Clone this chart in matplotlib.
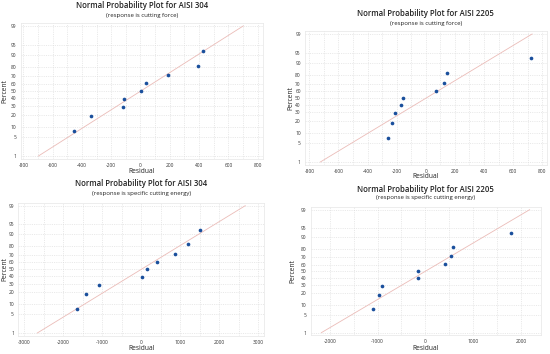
"""
Normal probability plots of residuals for AISI 304 / AISI 2205
(cutting force and specific cutting energy), Minitab style.
"""

from statistics import NormalDist

import numpy as np
import matplotlib
matplotlib.use("Agg")
import matplotlib.pyplot as plt
from matplotlib.ticker import MultipleLocator

plt.rcParams["font.family"] = ["Open Sans", "DejaVu Sans"]

# residuals (sorted low -> high)
res_304_force = [-455, -338, -122, -115, 5, 38, 185, 395, 425]
res_2205_force = [-262, -232, -213, -170, -157, 68, 127, 145, 720]
res_304_energy = [-1640, -1417, -1075, 26, 154, 418, 862, 1195, 1502]
res_2205_energy = [-1094, -976, -913, -153, -146, 404, 530, 578, 1790]

titles = ["Normal Probability Plot for AISI 304", "Normal Probability Plot for AISI 2205",
          "Normal Probability Plot for AISI 304", "Normal Probability Plot for AISI 2205"]
subtitles = ["(response is cutting force)", "(response is cutting force)",
             "(response is specific cutting energy)", "(response is specific cutting energy)"]

pct_ticks = [1, 5, 10, 20, 30, 40, 50, 60, 70, 80, 90, 95, 99]
xticks_force = [-800, -600, -400, -200, 0, 200, 400, 600, 800]
xticks_304_energy = [-3000, -2000, -1000, 0, 1000, 2000, 3000]
xticks_2205_energy = [-2000, -1000, 0, 1000, 2000]

W, H = 550, 354
nd = NormalDist()


def z(p):
    return nd.inv_cdf(p / 100.0)


ZLO, ZHI = -2.42, 2.42

# per panel layout in pixels:
# (x_val_a, px_a, x_val_b, px_b, px of 99%, px of 1%, xlim, title y, subtitle y, xlabel y, ylabel x)
panels = [
    (res_304_force, xticks_force, 100,
     (-800, 23.3, 800, 257.7, 26, 156, (-818, 836), 6, 15, 171, 5)),
    (res_2205_force, xticks_force, 100,
     (-800, 309.3, 800, 542.3, 34, 162, (-830, 830), 14, 23, 177, 291)),
    (res_304_energy, xticks_304_energy, 500,
     (-3000, 24, 3000, 258.3, 205.7, 333, (-3150, 3150), 184, 194, 349, 5)),
    (res_2205_energy, xticks_2205_energy, 500,
     (-2000, 329.7, 2000, 521, 209.7, 332.7, (-2400, 2420), 189, 198, 348, 293)),
]

fig = plt.figure(figsize=(W / 100, H / 100), dpi=100)
fig.patch.set_facecolor("white")

for i, (res, xt, minor, lay) in enumerate(panels):
    va, pa, vb, pb, p99, p1, xlim, ty, sy, ly, lx = lay
    sx = (pb - pa) / (vb - va)
    left = pa + (xlim[0] - va) * sx
    right = pa + (xlim[1] - va) * sx
    sz = (p1 - p99) / (z(99) - z(1))
    top = p99 - (ZHI - z(99)) * sz
    bottom = p1 + (z(1) - ZLO) * sz
    ax = fig.add_axes([left / W, 1 - bottom / H, (right - left) / W, (bottom - top) / H])

    res = np.sort(np.array(res, dtype=float))
    n = len(res)
    pct = (np.arange(1, n + 1) - 0.3) / (n + 0.4) * 100
    zs = [z(p) for p in pct]

    # fitted normal line from 1% to 99%
    mu, sd = res.mean(), res.std(ddof=1)
    zl = np.array([z(1), z(99)])
    ax.plot(mu + sd * zl, zl, color="#ebbcb8", lw=0.6, zorder=2)
    ax.scatter(res, zs, s=7, color="#1a4f9c", zorder=3, linewidths=0)

    ax.set_xlim(*xlim)
    ax.set_ylim(ZLO, ZHI)
    ax.set_xticks(xt)
    ax.set_xticklabels([str(v) for v in xt])
    ax.xaxis.set_minor_locator(MultipleLocator(minor))
    ax.set_yticks([z(p) for p in pct_ticks])
    ax.set_yticklabels([str(p) for p in pct_ticks])
    ax.tick_params(labelsize=3.5, length=0, pad=3, colors="#333333", which="both")
    ax.grid(True, which="both", color="#d9d9d9", lw=0.4, ls=(0, (2, 2)))
    ax.set_axisbelow(True)
    for s in ax.spines.values():
        s.set_color("#e6e6e6")
        s.set_linewidth(0.5)

    cx = (left + right) / 2
    cy = (top + bottom) / 2
    fig.text(cx / W, 1 - ty / H, titles[i], ha="center", va="center",
             fontsize=5.6, fontweight="semibold", color="#222222")
    fig.text(cx / W, 1 - sy / H, subtitles[i], ha="center", va="center",
             fontsize=4.3, color="#222222")
    fig.text(cx / W, 1 - ly / H, "Residual", ha="center", va="center",
             fontsize=4.8, color="#222222")
    fig.text(lx / W, 1 - cy / H, "Percent", ha="center", va="center", rotation=90,
             fontsize=4.8, color="#222222")

fig.savefig("out.png", dpi=100, facecolor="white")
